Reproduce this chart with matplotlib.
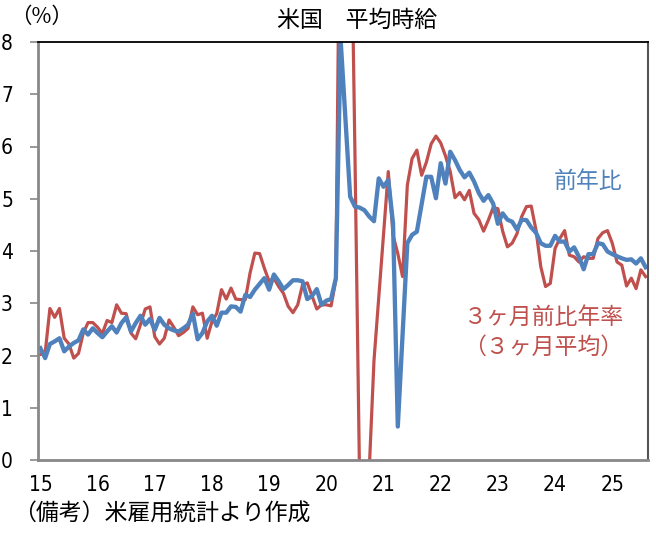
import numpy as np
import matplotlib
matplotlib.use('Agg')
import matplotlib.pyplot as plt
from matplotlib import font_manager

plt.rcParams['font.family'] = ['Noto Sans CJK JP', 'DejaVu Sans']

# 月次データ 2015年1月〜2025年8月
years = ['15', '16', '17', '18', '19', '20', '21', '22', '23', '24', '25']

# 平均時給 前年比 (%)
yoy = [2.14, 1.95, 2.22, 2.27, 2.33, 2.08, 2.17, 2.24, 2.29, 2.50, 2.40, 2.52,
       2.43, 2.35, 2.46, 2.56, 2.44, 2.62, 2.73, 2.46, 2.62, 2.76, 2.59, 2.70,
       2.49, 2.72, 2.59, 2.52, 2.48, 2.46, 2.52, 2.59, 2.80, 2.31, 2.43, 2.65,
       2.76, 2.57, 2.82, 2.82, 2.94, 2.93, 2.84, 3.16, 3.12, 3.26, 3.37, 3.48,
       3.26, 3.55, 3.42, 3.27, 3.35, 3.44, 3.44, 3.42, 3.08, 3.14, 3.27, 2.97,
       3.05, 3.08, 3.48, 8.05, 6.55, 5.04, 4.85, 4.83, 4.78, 4.66, 4.57, 5.39,
       5.23, 5.36, 4.53, 0.64, 2.40, 4.15, 4.31, 4.37, 4.90, 5.42, 5.42, 5.01,
       5.68, 5.29, 5.90, 5.74, 5.55, 5.41, 5.50, 5.33, 5.11, 4.96, 5.07, 4.91,
       4.52, 4.72, 4.60, 4.56, 4.41, 4.60, 4.59, 4.45, 4.35, 4.15, 4.10, 4.10,
       4.29, 4.18, 4.18, 3.99, 4.07, 3.89, 3.65, 3.94, 3.94, 4.15, 4.13, 3.99,
       3.94, 3.90, 3.86, 3.83, 3.84, 3.76, 3.86, 3.69]

# ３ヶ月前比年率（３ヶ月平均）(%)
ann3m = [2.02, 2.05, 2.90, 2.73, 2.90, 2.33, 2.22, 1.95, 2.04, 2.43, 2.63, 2.63,
         2.54, 2.42, 2.67, 2.63, 2.97, 2.81, 2.80, 2.43, 2.32, 2.59, 2.89, 2.93,
         2.36, 2.22, 2.33, 2.68, 2.54, 2.38, 2.44, 2.52, 2.93, 2.78, 2.81, 2.33,
         2.65, 2.80, 3.26, 3.08, 3.29, 3.08, 3.07, 3.07, 3.58, 3.96, 3.95, 3.67,
         3.42, 3.48, 3.32, 3.19, 2.94, 2.82, 2.97, 3.35, 3.39, 3.14, 2.89, 2.97,
         2.97, 2.95, 3.45, 12.5, 14.0, 11.9, 5.90, -0.5, -3.5, -0.2, 1.90, 3.10,
         4.30, 5.52, 4.30, 3.95, 3.51, 5.26, 5.77, 5.93, 5.45, 5.70, 6.05, 6.20,
         6.07, 5.82, 5.52, 5.02, 5.12, 4.98, 5.16, 4.72, 4.60, 4.38, 4.59, 4.83,
         4.81, 4.38, 4.08, 4.15, 4.33, 4.66, 4.85, 4.86, 4.40, 3.70, 3.32, 3.38,
         4.05, 4.24, 4.39, 3.92, 3.89, 3.79, 3.89, 3.86, 3.86, 4.24, 4.35, 4.39,
         4.15, 3.79, 3.73, 3.33, 3.48, 3.28, 3.64, 3.51]

x = np.arange(len(yoy))

# 目盛りの数字は細めの書体で
names = {f.name for f in font_manager.fontManager.ttflist}
if 'Liberation Sans Narrow' in names:
    tick_font = dict(family='Liberation Sans Narrow', size=17)
else:
    tick_font = dict(family='DejaVu Sans', stretch='condensed', size=15)

fig = plt.figure(figsize=(6.56, 5.33), dpi=100)
ax = fig.add_axes([38 / 656, 1 - 460 / 533, 610 / 656, 418 / 533])

ax.plot(x, ann3m, color='#C0504D', lw=2.3, solid_joinstyle='round')
ax.plot(x, yoy, color='#4F81BD', lw=3.1, solid_joinstyle='round')

ax.set_xlim(-0.5, len(yoy) - 0.5)
ax.set_ylim(0, 8)
ax.set_yticks(range(0, 9))
ax.set_xticks(np.arange(len(years)) * 12)
ax.set_xticklabels(years)

ax.tick_params(axis='y', direction='out', length=6, width=1.2, color='#888888', pad=12)
ax.tick_params(axis='x', length=0, pad=11)
for lab in ax.get_xticklabels() + ax.get_yticklabels():
    lab.set_fontfamily(tick_font['family'])
    lab.set_fontsize(tick_font['size'])
    if 'stretch' in tick_font:
        lab.set_fontstretch(tick_font['stretch'])

for s in ['left', 'bottom']:
    ax.spines[s].set_color('#888888')
    ax.spines[s].set_linewidth(2)
ax.spines['top'].set_color('black')
ax.spines['top'].set_linewidth(1.3)
ax.spines['right'].set_color('#555555')
ax.spines['right'].set_linewidth(1.5)

fig.text(0.545, 0.962, '米国　平均時給', ha='center', va='center', fontsize=16.5)
fig.text(0.064, 0.968, '（%）', ha='center', va='center', fontsize=15.5)
fig.text(0.020, 0.036, '（備考）米雇用統計より作成', ha='left', va='center', fontsize=16.5)

fig.text(0.896, 0.660, '前年比', ha='center', va='center', fontsize=16.5, color='#4F81BD')
fig.text(0.829, 0.405, '３ヶ月前比年率', ha='center', va='center', fontsize=16.5, color='#C0504D')
fig.text(0.828, 0.349, '（３ヶ月平均）', ha='center', va='center', fontsize=16.5, color='#C0504D')

fig.savefig('out.png', dpi=100)
